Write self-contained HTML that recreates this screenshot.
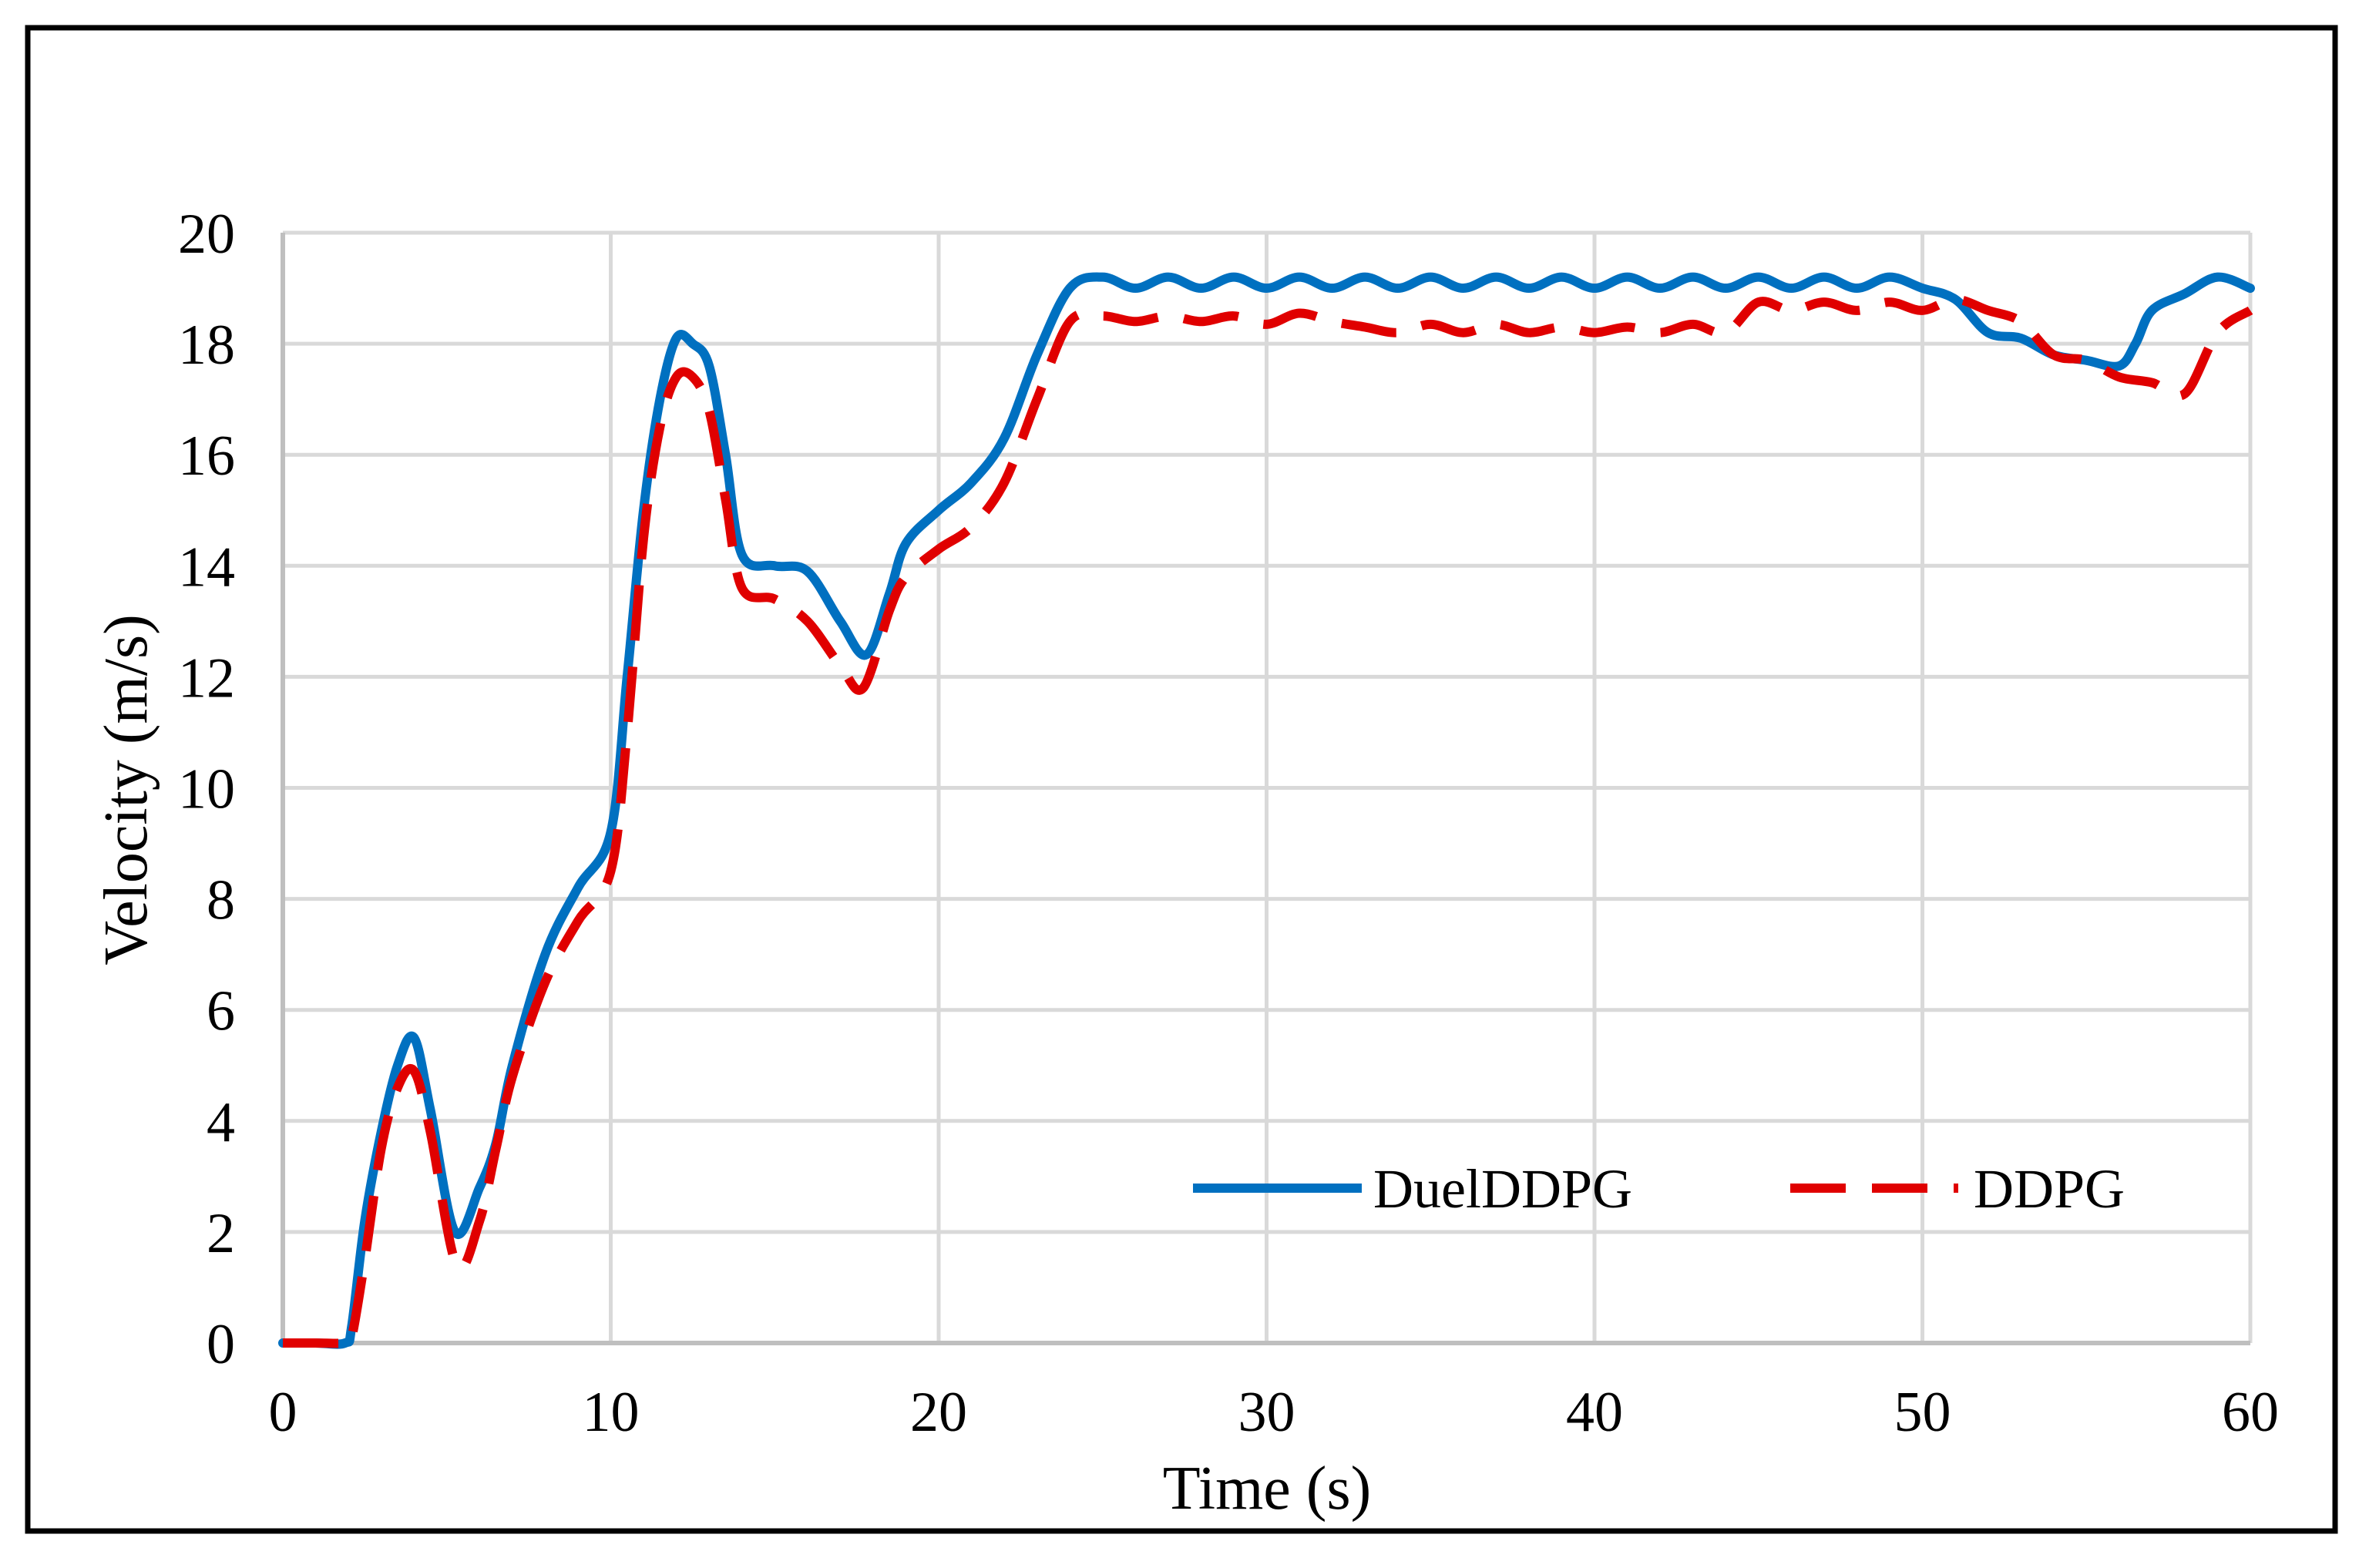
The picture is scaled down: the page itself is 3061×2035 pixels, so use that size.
<!DOCTYPE html>
<html><head><meta charset="utf-8"><style>
html,body{margin:0;padding:0;background:#fff;}
svg{display:block;font-family:"Liberation Serif",serif;}
</style></head><body>
<svg id="chart" width="3061" height="2035" viewBox="0 0 3061 2035" xmlns="http://www.w3.org/2000/svg">
<rect x="36" y="36" width="2994" height="1951" fill="#fff" stroke="#000" stroke-width="7"/>
<g id="grid"></g><g id="axes"></g><g id="series"></g>
<text x="1644" y="1958" font-size="80" text-anchor="middle">Time (s)</text>
<text transform="translate(190,1025) rotate(-90)" font-size="80" text-anchor="middle">Velocity (m/s)</text>
<g>
<line x1="1548" y1="1542" x2="1767" y2="1542" stroke="#0070c0" stroke-width="12"/>
<text x="1782" y="1567" font-size="72">DuelDDPG</text>
<line x1="2323" y1="1542" x2="2541" y2="1542" stroke="#e00000" stroke-width="12" stroke-dasharray="72,34"/>
<text x="2561" y="1567" font-size="72">DDPG</text>
</g>
</svg>
<script>
const xTicks=[0,10,20,30,40,50,60];
const yTicks=[0,2,4,6,8,10,12,14,16,18,20];
const duelT=[0,1,1.9,2.1,2.5,3,3.5,4,4.5,5.25,6,6.5,7,8,9,10,10.5,11,11.5,12,12.5,13,13.5,14,15,16,17,17.8,18.5,19,20,21,22,23,24,25,26,27,28,29,30,31,32,33,34,35,36,37,38,39,40,41,42,43,44,45,46,47,48,49,50,51,52,53,54,55,56,56.5,57,58,59,60];
const duelV=[0,0,0,0.3,2.2,3.8,5.0,5.5,4.2,2.0,2.8,3.6,5.0,7.0,8.2,9.2,12,15,17,18.1,18.0,17.6,16,14.2,14.0,13.9,13.0,12.4,13.5,14.4,15.0,15.5,16.3,17.8,19.0,19.2,19.0,19.2,19.0,19.2,19.0,19.2,19.0,19.2,19.0,19.2,19.0,19.2,19.0,19.2,19.0,19.2,19.0,19.2,19.0,19.2,19.0,19.2,19.0,19.2,19.0,18.8,18.2,18.1,17.8,17.7,17.6,18.0,18.6,18.9,19.2,19.0];
const ddpgT=[0,1,1.9,2.1,2.5,3,3.5,4,4.5,5.3,6,6.5,7,8,9,10,10.5,11,11.5,12,12.5,13,13.5,14,15,16,17,17.7,18.5,19,20,21,22,23,24,25,26,27,28,29,30,31,32,33,34,35,36,37,38,39,40,41,42,43,44,45,46,47,48,49,50,51,52,53,54,55,56,57,58,59,60];
const ddpgV=[0,0,0,0.1,1.5,3.5,4.6,4.9,3.8,1.4,2.2,3.5,4.8,6.5,7.6,8.5,11,14.5,16.5,17.4,17.4,16.8,15.2,13.6,13.4,13.0,12.2,11.8,13.2,13.8,14.3,14.7,15.5,17.0,18.4,18.5,18.4,18.5,18.4,18.5,18.35,18.55,18.4,18.3,18.2,18.35,18.2,18.35,18.2,18.3,18.2,18.3,18.2,18.35,18.2,18.75,18.6,18.75,18.6,18.75,18.6,18.8,18.6,18.4,17.8,17.7,17.4,17.3,17.1,18.2,18.6];
const X0=367,X1=2920,Y0=1743,Y1=302;
function sx(t){return X0+(t-0)/(60-0)*(X1-X0);}
function sy(v){return Y0-(v-0)/(20-0)*(Y0-Y1);}
const NS="http://www.w3.org/2000/svg";
const grid=document.getElementById('grid'),axes=document.getElementById('axes'),ser=document.getElementById('series');
function mk(tag,attrs,parent){const e=document.createElementNS(NS,tag);for(const k in attrs)e.setAttribute(k,attrs[k]);parent.appendChild(e);return e;}
yTicks.forEach(v=>{
  if(v>0){const l=mk('line',{x1:X0,x2:X1,y1:sy(v),y2:sy(v),stroke:'#d9d9d9','stroke-width':5},grid);
  
  }
  const t=mk('text',{x:305,y:sy(v)+26,'font-size':74,'text-anchor':'end'},axes);
  t.textContent=v;
  
  
});
xTicks.forEach(v=>{
  if(v>0){const l=mk('line',{x1:sx(v),x2:sx(v),y1:Y1,y2:Y0,stroke:'#d9d9d9','stroke-width':5},grid);
  
  }
  const t=mk('text',{x:sx(v),y:1857,'font-size':74,'text-anchor':'middle'},axes);
  t.textContent=v;
  
  
});
const xa=mk('line',{x1:X0,x2:X1,y1:Y0,y2:Y0,stroke:'#bfbfbf','stroke-width':6},axes);


const ya=mk('line',{x1:X0,x2:X0,y1:Y1,y2:Y0,stroke:'#bfbfbf','stroke-width':6},axes);


function pathD(T,V){
  const p=T.map((t,i)=>[sx(t),sy(V[i])]);
  let d='M'+p[0][0]+','+p[0][1];
  for(let i=0;i<p.length-1;i++){
    const a=p[Math.max(0,i-1)],b=p[i],c=p[i+1],e=p[Math.min(p.length-1,i+2)];
    const c1=[b[0]+(c[0]-a[0])/6,b[1]+(c[1]-a[1])/6],c2=[c[0]-(e[0]-b[0])/6,c[1]-(e[1]-b[1])/6];
    d+=' C'+c1+' '+c2+' '+c;
  }
  return d;
}
const pb=mk('path',{d:pathD(duelT,duelV),fill:'none',stroke:'#0070c0','stroke-width':12,'stroke-linejoin':'round','stroke-linecap':'round'},ser);


const pd=mk('path',{d:pathD(ddpgT,ddpgV),fill:'none',stroke:'#e00000','stroke-width':12,'stroke-dasharray':'72,34','stroke-linejoin':'round'},ser);


</script>
</body></html>
